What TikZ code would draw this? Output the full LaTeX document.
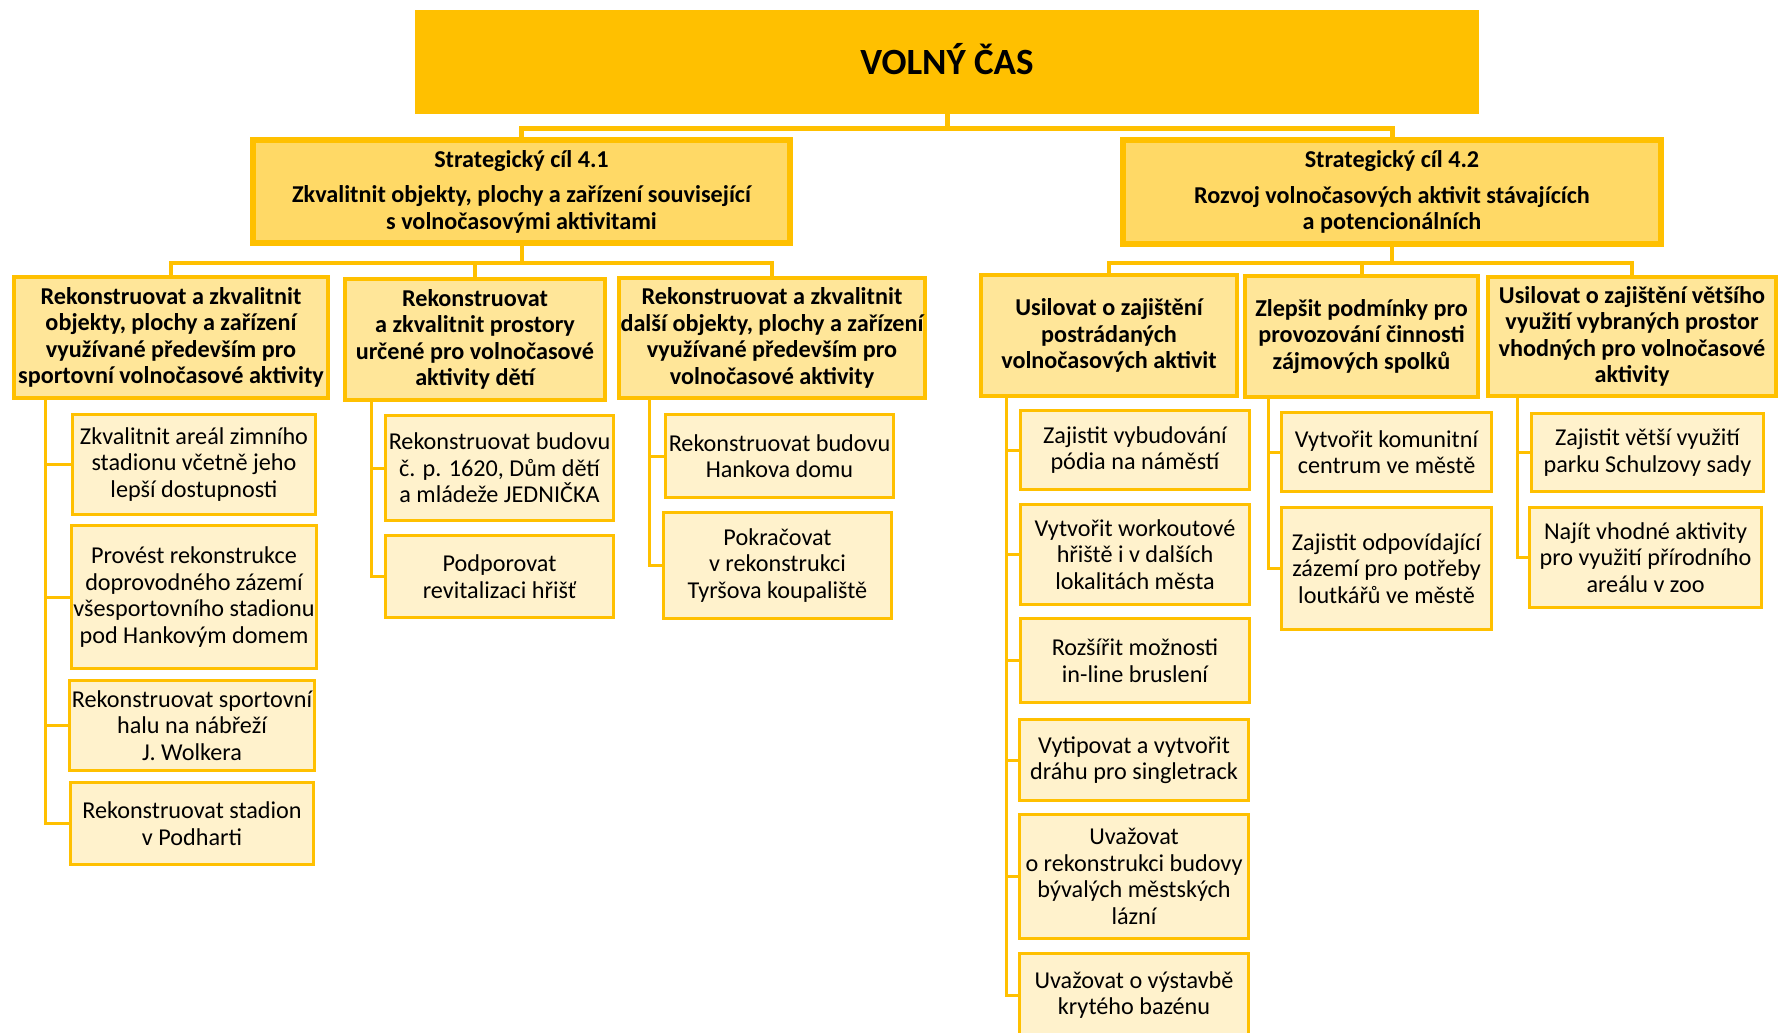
\documentclass[tikz,border=0pt]{standalone}
\usepackage{fontspec}
\setmainfont{Carlito}
\usepackage{xcolor}
\usepackage{tikz}

\definecolor{gold}{HTML}{FFC000}
\definecolor{stratfill}{HTML}{FFD966}
\definecolor{goalfill}{HTML}{FFE699}
\definecolor{leaffill}{HTML}{FFF2CC}

\begin{document}
\begin{tikzpicture}[x=1pt, y=-1pt,
  head/.style={rectangle, fill=gold, align=center, inner sep=2pt, text depth=7pt, font=\fontsize{37}{40}\selectfont\bfseries},
  strat/.style={rectangle, draw=gold, line width=6pt, fill=stratfill, align=center, inner sep=2pt, font=\fontsize{24.2}{26.5}\selectfont\bfseries},
  goal/.style={rectangle, draw=gold, line width=4pt, fill=goalfill, align=center, inner sep=2pt, font=\fontsize{24.2}{26.5}\selectfont\bfseries},
  leaf/.style={rectangle, draw=gold, line width=3pt, fill=leaffill, align=center, inner sep=2pt, font=\fontsize{24.2}{26.5}\selectfont},
  conn/.style={draw=gold, line width=4pt},
  twig/.style={draw=gold, line width=3pt}]

  \useasboundingbox (0,0) rectangle (1780,1033);

  % top
  \node[head, minimum width=1064pt, minimum height=104pt] (top) at (947,62) {VOLNÝ ČAS};

  % strategic goals
  \node[strat, minimum width=537pt, minimum height=103pt] (s1) at (521.5,191.5) {Strategický cíl 4.1\\[9pt]Zkvalitnit objekty, plochy a zařízení související\\s volnočasovými aktivitami};
  \node[strat, minimum width=538pt, minimum height=104pt] (s2) at (1392,192) {Strategický cíl 4.2\\[9pt]Rozvoj volnočasových aktivit stávajících\\a potencionálních};

  % goals 4.1
  \node[goal, minimum width=314pt, minimum height=121pt] (a1) at (171,337.5) {Rekonstruovat a zkvalitnit\\objekty, plochy a zařízení\\využívané především pro\\sportovní volnočasové aktivity};
  \node[goal, minimum width=260pt, minimum height=121pt] (a2) at (475,339.5) {Rekonstruovat\\a zkvalitnit prostory\\určené pro volnočasové\\aktivity dětí};
  \node[goal, minimum width=306pt, minimum height=120pt] (a3) at (772,338) {Rekonstruovat a zkvalitnit\\další objekty, plochy a zařízení\\využívané především pro\\volnočasové aktivity};

  % goals 4.2
  \node[goal, minimum width=256pt, minimum height=121pt] (b1) at (1109,335.5) {Usilovat o zajištění\\postrádaných\\volnočasových aktivit};
  \node[goal, minimum width=233pt, minimum height=121pt] (b2) at (1361.5,336.5) {Zlepšit podmínky pro\\provozování činnosti\\zájmových spolků};
  \node[goal, minimum width=288pt, minimum height=119pt] (b3) at (1632,336.5) {Usilovat o zajištění většího\\využití vybraných prostor\\vhodných pro volnočasové\\aktivity};

  % activities under a1
  \node[leaf, minimum width=243pt, minimum height=100pt] (l11) at (194,464.5) {Zkvalitnit areál zimního\\stadionu včetně jeho\\lepší dostupnosti};
  \node[leaf, minimum width=243pt, minimum height=143pt] (l12) at (194,597) {Provést rekonstrukce\\doprovodného zázemí\\všesportovního stadionu\\pod Hankovým domem};
  \node[leaf, minimum width=243pt, minimum height=90pt] (l13) at (192,725.5) {Rekonstruovat sportovní\\halu na nábřeží\\J. Wolkera};
  \node[leaf, minimum width=243pt, minimum height=82pt] (l14) at (192,823.5) {Rekonstruovat stadion\\v Podharti};

  % activities under a2
  \node[leaf, minimum width=228pt, minimum height=105pt] (l21) at (499.5,468) {Rekonstruovat budovu\\č. p. 1620, Dům dětí\\a mládeže JEDNIČKA};
  \node[leaf, minimum width=228pt, minimum height=82pt] (l22) at (499.5,576.5) {Podporovat\\revitalizaci hřišť};

  % activities under a3
  \node[leaf, minimum width=228pt, minimum height=83pt] (l31) at (779.5,456) {Rekonstruovat budovu\\Hankova domu};
  \node[leaf, minimum width=228pt, minimum height=106pt] (l32) at (777.5,565.5) {Pokračovat\\v rekonstrukci\\Tyršova koupaliště};

  % activities under b1
  \node[leaf, minimum width=229pt, minimum height=79pt] (m11) at (1135,450) {Zajistit vybudování\\pódia na náměstí};
  \node[leaf, minimum width=229pt, minimum height=100pt] (m12) at (1135,554.5) {Vytvořit workoutové\\hřiště i v dalších\\lokalitách města};
  \node[leaf, minimum width=229pt, minimum height=84pt] (m13) at (1135,660.5) {Rozšířit možnosti\\in-line bruslení};
  \node[leaf, minimum width=229pt, minimum height=81pt] (m14) at (1134,760) {Vytipovat a vytvořit\\dráhu pro singletrack};
  \node[leaf, minimum width=229pt, minimum height=124pt] (m15) at (1134,876.5) {Uvažovat\\o rekonstrukci budovy\\bývalých městských\\lázní};
  \node[leaf, minimum width=229pt, minimum height=83pt] (m16) at (1134,995) {Uvažovat o výstavbě\\krytého bazénu};

  % activities under b2
  \node[leaf, minimum width=210pt, minimum height=79pt] (m21) at (1386.5,452) {Vytvořit komunitní\\centrum ve městě};
  \node[leaf, minimum width=210pt, minimum height=122pt] (m22) at (1386.5,568.5) {Zajistit odpovídající\\zázemí pro potřeby\\loutkářů ve městě};

  % activities under b3
  \node[leaf, minimum width=232pt, minimum height=78pt] (m31) at (1647.5,452.5) {Zajistit větší využití\\parku Schulzovy sady};
  \node[leaf, minimum width=232pt, minimum height=100pt] (m32) at (1645.5,557.5) {Najít vhodné aktivity\\pro využití přírodního\\areálu v zoo};

  % tree lines
  \draw[conn, line width=5pt] (top.south) -- ++(0,14) -| (s1.north);
  \draw[conn, line width=5pt] (top.south) -- ++(0,14) -| (s2.north);
  \foreach \c in {a1,a2,a3} \draw[conn] (s1.south) -- ++(0,17) -| (\c.north);
  \foreach \c in {b1,b2,b3} \draw[conn] (s2.south) -- ++(0,16) -| (\c.north);

  \coordinate (a1r) at ([xshift=33pt]a1.south west);
  \coordinate (a2r) at ([xshift=28pt]a2.south west);
  \coordinate (a3r) at ([xshift=33pt]a3.south west);
  \coordinate (b1r) at ([xshift=27pt]b1.south west);
  \coordinate (b2r) at ([xshift=25pt]b2.south west);
  \coordinate (b3r) at ([xshift=31pt]b3.south west);

  \foreach \c in {l11,l12,l13,l14} \draw[twig] (a1r) |- (\c.west);
  \foreach \c in {l21,l22} \draw[twig] (a2r) |- (\c.west);
  \foreach \c in {l31,l32} \draw[twig] (a3r) |- (\c.west);
  \foreach \c in {m11,m12,m13,m14,m15,m16} \draw[twig] (b1r) |- (\c.west);
  \foreach \c in {m21,m22} \draw[twig] (b2r) |- (\c.west);
  \foreach \c in {m31,m32} \draw[twig] (b3r) |- (\c.west);
\end{tikzpicture}
\end{document}
